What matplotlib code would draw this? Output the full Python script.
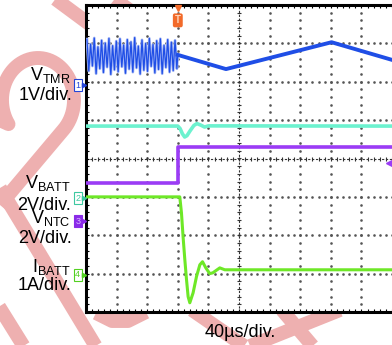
"""Scope capture: VTMR, VBATT, VNTC, IBATT around a charger trigger event."""
import numpy as np
import matplotlib
matplotlib.use("Agg")
import matplotlib.pyplot as plt
from matplotlib.ticker import MultipleLocator

plt.rcParams['font.family'] = ['Liberation Sans', 'DejaVu Sans']
plt.rcParams['mathtext.fontset'] = 'custom'
plt.rcParams['mathtext.rm'] = 'Liberation Sans'

W, H = 392, 345

# --- data (time in us, trigger at 0) ---
vtmr_osc_t = [-118.8, -116.4, -114.0, -111.6, -109.2, -106.8, -104.4, -102.0, -99.6, -97.2,
              -94.8, -92.4, -90.0, -87.6, -85.2, -82.8, -80.4, -78.0, -75.6, -73.2,
              -70.8, -68.4, -66.0, -63.6, -61.2, -58.8, -56.4, -54.0, -51.6, -49.2,
              -46.8, -44.4, -42.0, -39.6, -37.2, -34.8, -32.4, -30.0, -27.6, -25.2,
              -22.8, -20.4, -18.0, -15.6, -13.2, -10.8, -8.4, -6.0, -3.6, -1.2]
vtmr_osc_v = [1.20, 0.37, 1.07, 0.50, 1.23, 0.30, 1.00, 0.43, 1.17, 0.33,
              1.10, 0.47, 1.22, 0.28, 1.03, 0.40, 1.15, 0.35, 1.21, 0.48,
              1.05, 0.31, 1.19, 0.42, 1.13, 0.34, 1.24, 0.45, 1.02, 0.29,
              1.18, 0.39, 1.09, 0.36, 1.22, 0.49, 1.06, 0.32, 1.16, 0.41,
              1.21, 0.30, 1.04, 0.46, 1.19, 0.34, 1.12, 0.38, 1.17, 0.43]
vtmr_t = [0.0, 63.0, 201.0, 280.0]
vtmr_v = [0.79, 0.42, 1.12, 0.66]

vbatt_t = [-120, 0, 3, 6, 9, 12, 16, 21, 25, 30, 35, 40, 280]
vbatt_v = [3.75, 3.75, 3.62, 3.35, 3.18, 3.25, 3.50, 3.78, 3.88, 3.80, 3.70, 3.76, 3.75]

vntc_t = [-120, 0.5, 0.5, 280]
vntc_v = [1.98, 1.98, 3.86, 3.86]

ibatt_t = [-120, 2.6, 4.8, 6.9, 9.2, 11.4, 13.5, 15.7, 20.0, 24.4, 28.8, 32.3,
           36.6, 41.8, 45.7, 54.9, 61.4, 280]
ibatt_a = [2.03, 2.03, 1.61, 0.99, 0.39, -0.13, -0.57, -0.73, -0.47, -0.05, 0.26, 0.34,
           0.18, 0.03, 0.05, 0.18, 0.13, 0.13]

# channel: (ground position in div, units per div, colour)
ch_gnd = [1.91, -1.03, -1.63, -3.03]
ch_scale = [1.0, 2.0, 2.0, 1.0]
ch_col = ['#1f4ee6', '#6cf2cf', '#9b3cf5', '#6ee827']

trig_level_div = -0.12

fig = plt.figure(figsize=(W / 100, H / 100), dpi=100)

def px(x, y):
    return x / W, 1 - y / H

# --- watermark (behind everything) ---
bg = fig.add_axes([0, 0, 1, 1], zorder=0)
bg.set_xlim(0, W)
bg.set_ylim(H, 0)
bg.axis('off')
wm = dict(color='#eeb0b0', lw=10, solid_capstyle='butt')
th = np.radians(np.linspace(215, -45, 60))
ax_ = 38 + 36 * np.cos(th)
ay_ = 100 - 42 * np.sin(th)
bg.plot(np.r_[-5, ax_, 0], np.r_[118, ay_, 205], **wm)
bg.plot([50, 100], [-5, 32], **wm)
bg.plot([108, 140], [-6, 18], **wm)
bg.plot([0, 98], [188, 350], **wm)
bg.plot([-2, 26], [305, 350], **wm)
bg.plot([96, 112, 128, 146], [313, 321, 321, 312], **wm)
bg.plot([192, 250], [310, 350], **wm)
bg.plot([240, 340], [350, 310], **wm)
bg.plot([282, 316], [310, 350], **wm)

# --- scope screen ---
ax = fig.add_axes([86 / W, 33 / H, 306 / W, 307 / H], zorder=1)
ax.set_facecolor('white')
ax.set_xlim(-120, 280)
ax.set_ylim(-4, 4)
for s in ['left', 'top', 'bottom']:
    ax.spines[s].set_linewidth(2.2)
ax.spines['right'].set_visible(False)
ax.xaxis.set_major_locator(MultipleLocator(40))
ax.xaxis.set_minor_locator(MultipleLocator(8))
ax.yaxis.set_major_locator(MultipleLocator(1))
ax.yaxis.set_minor_locator(MultipleLocator(0.2))
ax.tick_params(which='both', direction='in', length=2.5, width=0.8,
               top=True, right=False, labelbottom=False, labelleft=False)

# graticule dots
ydots = np.arange(-4, 4.01, 0.2)
xdots = np.arange(-120, 280.1, 8)
for gx in [-80, -40, 0, 40, 120, 160, 200, 240]:
    ax.plot([gx] * len(ydots), ydots, ls='none', marker='s', ms=0.8, color='#555', zorder=1)
for gy in [-3, -2, -1, 1, 2, 3]:
    ax.plot(xdots, [gy] * len(xdots), ls='none', marker='s', ms=0.8, color='#555', zorder=1)
# centre cross-hair
ax.axhline(0, color='#333', lw=0.8, ls=(0, (2, 1.5)), zorder=1)
ax.axvline(80, color='#333', lw=0.8, ls=(0, (2, 1.5)), zorder=1)
ax.plot(xdots, np.zeros_like(xdots), ls='none', marker='|', ms=3.5, mew=0.8, color='#333', zorder=1)
ax.plot(np.full_like(ydots, 80), ydots, ls='none', marker='_', ms=3.5, mew=0.8, color='#333', zorder=1)

def div(vals, ch):
    return ch_gnd[ch] + np.asarray(vals) / ch_scale[ch]

# traces
ax.plot(vtmr_osc_t + [0.0], div(vtmr_osc_v + [vtmr_v[0]], 0), color='#a6b8f6', lw=2.0, zorder=3)
ax.plot(vtmr_osc_t + [0.0], div(vtmr_osc_v + [vtmr_v[0]], 0), color=ch_col[0], lw=0.9, zorder=3)
ax.plot(vtmr_t, div(vtmr_v, 0), color=ch_col[0], lw=2.8, zorder=3)
ax.plot(vbatt_t, div(vbatt_v, 1), color=ch_col[1], lw=2.6, zorder=3)
ax.plot(vntc_t, div(vntc_v, 2), color=ch_col[2], lw=2.6, zorder=3)
ax.plot(ibatt_t, div(ibatt_a, 3), color=ch_col[3], lw=2.2, zorder=3)

# trigger position and level markers
ax.plot([0], [3.93], marker='v', ms=5, color='#f26a2a', zorder=5, clip_on=False)
ax.text(0, 3.6, 'T', ha='center', va='center', fontsize=7, color='#ffd4b8',
        fontweight='bold', zorder=6,
        bbox=dict(boxstyle='round,pad=0.2', fc='#f26a2a', ec='none'))
ax.plot([276], [trig_level_div], marker='<', ms=5, color=ch_col[2], zorder=5, clip_on=False)

# channel ground markers
mk_edge = ['#2546d8', '#3cc8a0', '#8a2be8', '#52d020']
mk_fill = ['white', 'white', '#8a2be8', 'white']
mk_txt = ['#2546d8', '#3cc8a0', '#d9b8ff', '#52d020']
yt = ax.get_yaxis_transform()
for i in range(4):
    ax.text(-0.027, ch_gnd[i], str(i + 1), transform=yt,
            ha='center', va='center', fontsize=6.5, color=mk_txt[i], zorder=6,
            bbox=dict(boxstyle='square,pad=0.15', fc=mk_fill[i], ec=mk_edge[i], lw=0.8),
            clip_on=False)
    ax.plot([-0.008], [ch_gnd[i]], transform=yt, marker='>', ms=3, color=mk_edge[i],
            zorder=6, clip_on=False)

# labels
lab = dict(ha='right', va='baseline', fontsize=13, color='black', zorder=10)
fig.text(*px(71, 80), r'$\mathregular{V_{TMR}}$', **lab)
fig.text(*px(72, 100), '1V/div.', **lab)
fig.text(*px(71, 188), r'$\mathregular{V_{BATT}}$', **lab)
fig.text(*px(71, 210), '2V/div.', **lab)
fig.text(*px(71, 223), r'$\mathregular{V_{NTC}}$', **lab)
fig.text(*px(72, 243), '2V/div.', **lab)
fig.text(*px(71, 272), r'$\mathregular{I_{BATT}}$', **lab)
fig.text(*px(71, 290), '1A/div.', **lab)
fig.text(*px(240, 337), '40µs/div.', ha='center', va='baseline', fontsize=13, zorder=10)

fig.savefig('out.png', dpi=100)
